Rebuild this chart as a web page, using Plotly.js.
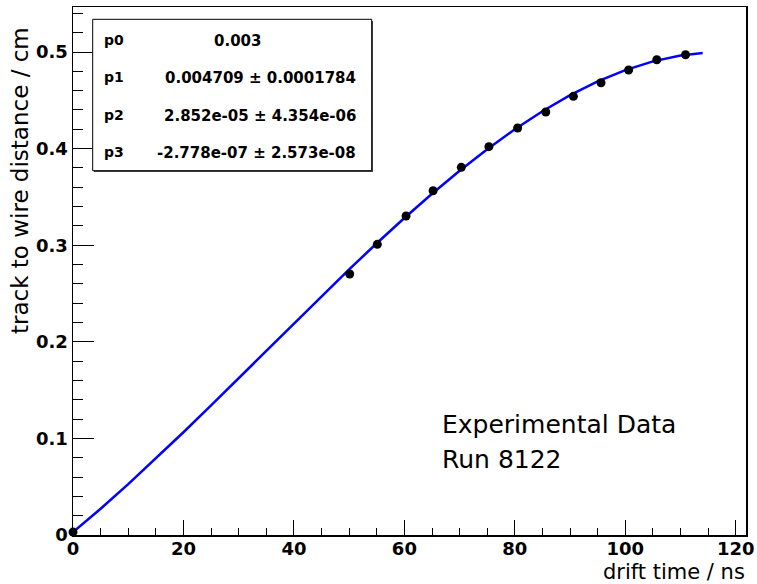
<!DOCTYPE html>
<html>
<head>
<meta charset="utf-8">
<script src="https://cdn.plot.ly/plotly-3.0.1.min.js"></script>
<style>
html,body{margin:0;padding:0;background:#fff;}
#chart{width:757px;height:584px;}
</style>
</head>
<body>
<div id="chart"></div>
<script>
// measured data points (drift time in ns, distance in cm)
const dataTime = [0, 50.1, 55.1, 60.3, 65.2, 70.3, 75.3, 80.5, 85.6, 90.6, 95.6, 100.6, 105.7, 110.9];
const dataDist = [0.003, 0.2702, 0.3009, 0.3302, 0.3564, 0.3806, 0.402, 0.4213, 0.4379, 0.4541, 0.4682, 0.4814, 0.492, 0.4972];

// fitted curve
const fitTime = [0, 5, 10, 15, 20, 25, 30, 35, 40, 45, 50, 55, 60, 65, 70, 75, 80, 85, 90, 95, 100, 105, 110, 114];
const fitDist = [0.003, 0.0272, 0.0527, 0.0791, 0.1064, 0.1342, 0.1624, 0.1908, 0.2192, 0.2473, 0.2750, 0.3020,
                 0.3282, 0.3533, 0.3771, 0.3994, 0.4200, 0.4387, 0.4553, 0.4696, 0.4813, 0.4903, 0.4963, 0.4989];

// fit parameter box text
const parNames = ["p0", "p1", "p2", "p3"];
const parValues = ["0.003", "0.004709 \u00b1 0.0001784", "2.852e-05 \u00b1 4.354e-06", "-2.778e-07 \u00b1 2.573e-08"];

const xTickVals = [0, 20, 40, 60, 80, 100, 120];
const yTickVals = [0, 0.1, 0.2, 0.3, 0.4, 0.5];
const yTickText = ["0", "0.1", "0.2", "0.3", "0.4", "0.5"];

const labelLines = ["Experimental Data", "Run 8122"];

// layout geometry in pixels
const L = 73, R = 746, T = 7, B = 535;
const px = v => (v - L) / (R - L);
const py = v => (B - v) / (B - T);

const rowY = [40, 77, 115, 152];
const annotations = [];
parNames.forEach((n, i) => {
  annotations.push({xref:'paper', yref:'paper', x: px(102), y: py(rowY[i]), xanchor:'left', yanchor:'middle',
    text: n, showarrow:false, font:{family:'DejaVu Sans', size:14, weight:'bold', color:'#000'}});
});
parValues.forEach((v, i) => {
  const centered = i === 0;
  annotations.push({xref:'paper', yref:'paper', x: centered ? px(237) : px(358), y: py(rowY[i] + 1),
    xanchor: centered ? 'center' : 'right', yanchor:'middle',
    text: v, showarrow:false, font:{family:'DejaVu Sans', size:15, weight:'bold', color:'#000'}});
});
labelLines.forEach((t, i) => {
  annotations.push({xref:'paper', yref:'paper', x: px(440), y: py([424, 459][i]), xanchor:'left', yanchor:'middle',
    text: t, showarrow:false, font:{family:'DejaVu Sans', size:25, color:'#000'}});
});
annotations.push({xref:'paper', yref:'paper', x: px(747), y: py(572), xanchor:'right', yanchor:'middle',
  text:'drift time / ns', showarrow:false, font:{family:'DejaVu Sans', size:21, color:'#000'}});
annotations.push({xref:'paper', yref:'paper', x: px(20), y: py(181), xanchor:'center', yanchor:'middle', textangle:-90,
  text:'track to wire distance / cm', showarrow:false, font:{family:'DejaVu Sans', size:23, color:'#000'}});

const traces = [
  {x: fitTime, y: fitDist, mode:'lines', line:{color:'#0000ff', width:2.5}, hoverinfo:'skip', cliponaxis:false},
  {x: dataTime, y: dataDist, mode:'markers', marker:{color:'#000', size:9}, cliponaxis:false}
];

const tickFont = {family:'DejaVu Sans', size:18, weight:'bold', color:'#000'};
const layout = {
  width:757, height:584,
  margin:{l:L, r:757-R, t:T, b:584-B, pad:0},
  paper_bgcolor:'#fff', plot_bgcolor:'#fff',
  showlegend:false,
  xaxis:{range:[0, 121.85], showgrid:false, zeroline:false, showline:true, linecolor:'#000', linewidth:1.5, mirror:true,
    ticks:'inside', ticklen:15, tickwidth:1, tickcolor:'#000', tickvals:xTickVals, tickfont:tickFont, ticklabelstandoff:-3,
    minor:{ticks:'inside', ticklen:7, dtick:5, tick0:0, tickcolor:'#000', tickwidth:1, showgrid:false}},
  yaxis:{range:[0, 0.5466], showgrid:false, zeroline:false, showline:true, linecolor:'#000', linewidth:1.5, mirror:true,
    ticks:'inside', ticklen:21, tickwidth:1, tickcolor:'#000', tickvals:yTickVals, ticktext:yTickText, tickfont:tickFont,
    minor:{ticks:'inside', ticklen:10, dtick:0.02, tick0:0, tickcolor:'#000', tickwidth:1, showgrid:false}},
  shapes:[
    {type:'rect', xref:'paper', yref:'paper', x0:px(94), x1:px(373), y0:py(172), y1:py(21), line:{width:0}, fillcolor:'#444', layer:'above'},
    {type:'rect', xref:'paper', yref:'paper', x0:px(92.7), x1:px(371.7), y0:py(170.7), y1:py(19.3), line:{color:'#000', width:1}, fillcolor:'#fff', layer:'above'}
  ],
  annotations: annotations
};

Plotly.newPlot('chart', traces, layout, {staticPlot:true, displayModeBar:false});
</script>
</body>
</html>
